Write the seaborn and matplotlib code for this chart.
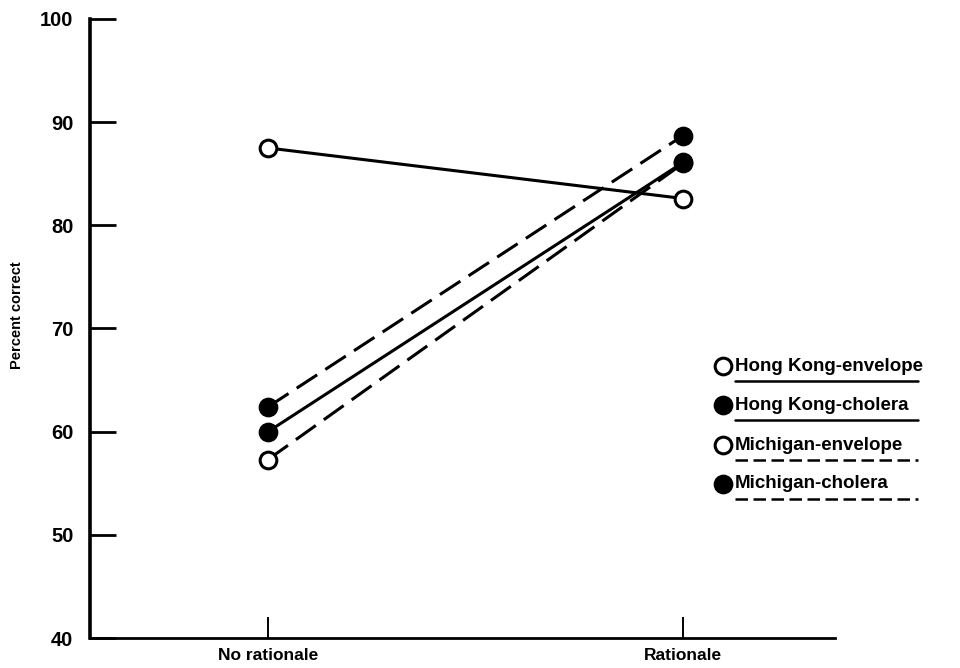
import matplotlib
matplotlib.use("Agg")
import matplotlib.pyplot as plt
from matplotlib.lines import Line2D
import pandas as pd
import seaborn as sns

# Data
conditions = ["No rationale", "Rationale"]
groups = ["Michigan-envelope", "Hong Kong-envelope", "Hong Kong-cholera", "Michigan-cholera"]
michigan_envelope = [57.3, 86.0]
hong_kong_envelope = [87.5, 82.6]
hong_kong_cholera = [60.0, 86.1]
michigan_cholera = [62.4, 88.7]
y_ticks = [40, 50, 60, 70, 80, 90, 100]

values = {
    "Michigan-envelope": michigan_envelope,
    "Hong Kong-envelope": hong_kong_envelope,
    "Hong Kong-cholera": hong_kong_cholera,
    "Michigan-cholera": michigan_cholera,
}
rows = []
for g in groups:
    for c, v in zip(conditions, values[g]):
        rows.append({"group": g, "condition": c, "pct": v})
df = pd.DataFrame(rows)

sns.set_style("white")
plt.rcParams['font.family'] = ['Liberation Sans', 'DejaVu Sans']
plt.rcParams['font.weight'] = 'bold'
plt.rcParams['text.color'] = 'black'
plt.rcParams['xtick.color'] = 'black'
plt.rcParams['ytick.color'] = 'black'
plt.rcParams['axes.labelcolor'] = 'black'
plt.rcParams['axes.edgecolor'] = 'black'

fig = plt.figure(figsize=(9.6, 6.68), dpi=100)
ax = fig.add_axes([90 / 960, 30 / 668, (835 - 90) / 960, (638 - 19) / 668])

dash = (0, (8, 3.2))
styles = {
    "Michigan-envelope": ("white", dash),
    "Hong Kong-envelope": ("white", "-"),
    "Hong Kong-cholera": ("black", "-"),
    "Michigan-cholera": ("black", dash),
}
for g in groups:
    face, ls = styles[g]
    sub = df[df["group"] == g]
    sns.lineplot(data=sub, x="condition", y="pct", ax=ax, color="black",
                 linewidth=2.2, linestyle=ls, marker="o", markersize=12,
                 markerfacecolor=face, markeredgecolor="black",
                 markeredgewidth=2.2, legend=False)

ax.set_xlim(-0.429, 1.366)
ax.set_ylim(40, 100)
ax.set_yticks(y_ticks)
ax.set_yticklabels([str(t) for t in y_ticks], fontsize=14.5, fontweight='bold')
ax.set_xticks([0, 1])
ax.set_xticklabels(conditions, fontsize=12.5, fontweight='bold')
ax.tick_params(axis='y', direction='in', length=19, width=2.0, pad=12, left=True)
ax.tick_params(axis='x', direction='in', length=15, width=1.4, pad=7, bottom=True)
ax.set_xlabel("")
ax.set_ylabel("")
fig.text(17 / 960, 1 - 315 / 668, "Percent correct", fontsize=10.5, fontweight='bold',
         rotation=90, ha='center', va='center')
for s in ["top", "right"]:
    ax.spines[s].set_visible(False)
ax.spines["left"].set_linewidth(2.6)
ax.spines["bottom"].set_linewidth(2.0)
ax.grid(False)

# Legend drawn as marker + underlined label (figure pixel positions)
legend_rows = [
    ("Hong Kong-envelope", "white", "-", 366),
    ("Hong Kong-cholera", "black", "-", 405),
    ("Michigan-envelope", "white", (0, (5, 2.2)), 445),
    ("Michigan-cholera", "black", (0, (5, 2.2)), 484),
]
for label, face, ls, ypix in legend_rows:
    yf = 1 - ypix / 668
    fig.add_artist(Line2D([723 / 960], [yf], marker="o", markersize=12,
                          markerfacecolor=face, markeredgecolor="black",
                          markeredgewidth=2.2, linestyle="none",
                          transform=fig.transFigure))
    fig.text(735 / 960, yf, label, fontsize=13.5, fontweight='bold',
             va='center', ha='left')
    uy = 1 - (ypix + 15) / 668
    fig.add_artist(Line2D([735 / 960, 918 / 960], [uy, uy], color="black",
                          linewidth=1.8, linestyle=ls,
                          transform=fig.transFigure))

fig.savefig("out.png", dpi=100)
